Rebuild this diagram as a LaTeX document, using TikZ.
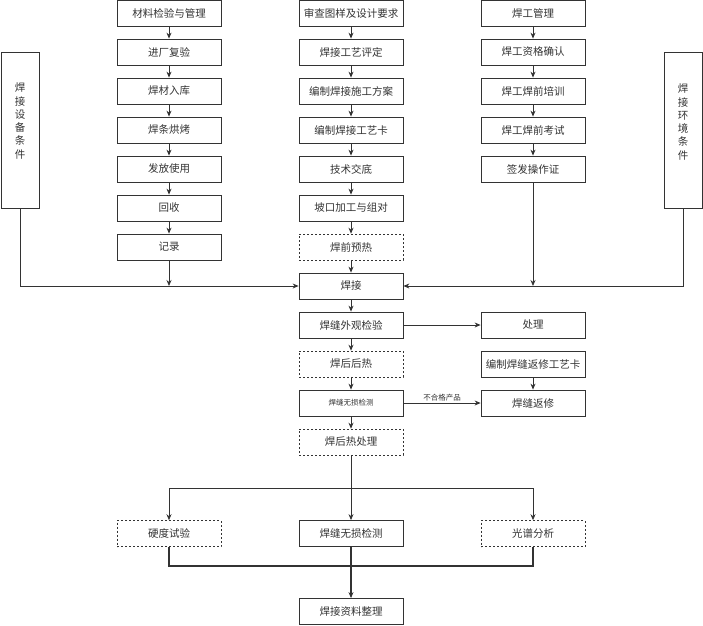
\documentclass[tikz,border=0pt]{standalone}
\usepackage{fontspec}
\newfontfamily\cjk{Noto Sans CJK SC}
\usetikzlibrary{arrows.meta}
\definecolor{lnc}{HTML}{333333}
\begin{document}
\begin{tikzpicture}[x=1pt,y=-1pt,
  box/.style={draw=lnc, line width=0.8pt, minimum width=104pt, minimum height=26pt, inner sep=0pt, font=\cjk\fontsize{10.5}{12}\selectfont, text=lnc},
  dbox/.style={box, dash pattern=on 2pt off 2pt, line width=0.6pt},
  side/.style={draw=lnc, line width=0.8pt, minimum width=38pt, minimum height=156pt, inner sep=0pt},
  vtext/.style={font=\cjk\fontsize{10.5}{13.3}\selectfont, text=lnc, align=center, inner sep=0pt},
  small/.style={font=\cjk\fontsize{7.5}{9}\selectfont, text=lnc},
  conn/.style={draw=lnc, line width=0.8pt},
  arr/.style={conn, -{Stealth[length=6pt,width=5pt]}},
  tarr/.style={arr, line width=1.5pt, -{Stealth[length=6pt,width=5pt]}},
  tconn/.style={conn, line width=1.5pt}]
\useasboundingbox (0,0) rectangle (703,625);
% left column
\node[box] (a1) at (169,13.5) {材料检验与管理};
\node[box] (a2) at (169,52) {进厂复验};
\node[box] (a3) at (169,91) {焊材入库};
\node[box] (a4) at (169,130) {焊条烘烤};
\node[box] (a5) at (169,169) {发放使用};
\node[box] (a6) at (169,208) {回收};
\node[box] (a7) at (169,247) {记录};
% middle column
\node[box] (b1) at (351,13.5) {审查图样及设计要求};
\node[box] (b2) at (351,52) {焊接工艺评定};
\node[box] (b3) at (351,91) {编制焊接施工方案};
\node[box] (b4) at (351,130) {编制焊接工艺卡};
\node[box] (b5) at (351,169) {技术交底};
\node[box] (b6) at (351,208) {坡口加工与组对};
\node[dbox] (b7) at (351,247) {焊前预热};
\node[box] (b8) at (351,286) {焊接};
% right column
\node[box] (c1) at (533,13.5) {焊工管理};
\node[box] (c2) at (533,52) {焊工资格确认};
\node[box] (c3) at (533,91) {焊工焊前培训};
\node[box] (c4) at (533,130) {焊工焊前考试};
\node[box] (c5) at (533,169) {签发操作证};
% side boxes
\node[side] (L) at (20,130) {};
\node[vtext] (Lt) at (20,121) {焊\\接\\设\\备\\条\\件};
\node[side] (R) at (683,130) {};
\node[vtext] (Rt) at (683,122) {焊\\接\\环\\境\\条\\件};
% lower part
\node[box] (d1) at (351,325) {焊缝外观检验};
\node[dbox] (d2) at (351,364) {焊后后热};
\node[box, small] (d3) at (351,403) {焊缝无损检测};
\node[dbox] (d4) at (351,442) {焊后热处理};
\node[box] (e1) at (533,325) {处理};
\node[box] (e2) at (533,364) {编制焊缝返修工艺卡};
\node[box] (e3) at (533,403) {焊缝返修};
\node[dbox] (f1) at (169,533.5) {硬度试验};
\node[box] (f2) at (351,533.5) {焊缝无损检测};
\node[dbox] (f3) at (533,533.5) {光谱分析};
\node[box] (f4) at (351,611.5) {焊接资料整理};
% connectors columns
\foreach \p/\q in {a1/a2,a2/a3,a3/a4,a4/a5,a5/a6,a6/a7,b1/b2,b2/b3,b3/b4,b4/b5,b5/b6,b6/b7,b7/b8,c1/c2,c2/c3,c3/c4,c4/c5}
  \draw[arr] (\p) -- (\q);
\draw[arr] (L.south) |- (b8.west);
\draw[arr] (a7) -- (a7 |- b8.west);
\draw[arr] (R.south) |- (b8.east);
\draw[arr] (c5) -- (c5 |- b8.east);
\draw[arr] (b8) -- (d1);
\draw[arr] (d1) -- (d2);
\draw[arr] (d2) -- (d3);
\draw[arr] (d3) -- (d4);
\draw[arr] (d1) -- (e1);
\draw[arr] (e2) -- (e3);
\draw[arr] (d3) -- node[small, above, inner sep=1.5pt] (lbl) {不合格产品} (e3);
% branching
\coordinate (br) at (351,488);
\draw[arr] (d4) -- (f2);
\draw[arr] (br) -| (f1);
\draw[arr] (br) -| (f3);
% merge
\coordinate (mg) at (351,566);
\draw[tconn] (f1) |- (mg);
\draw[tconn] (f3) |- (mg);
\draw[tarr] (f2) -- (f4);
\end{tikzpicture}
\end{document}
